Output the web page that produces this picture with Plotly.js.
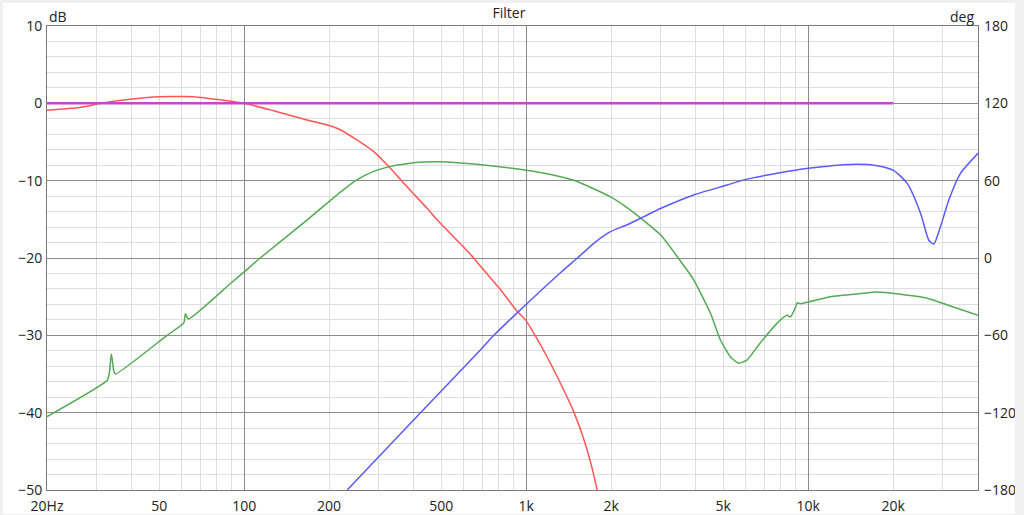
<!DOCTYPE html>
<html>
<head>
<meta charset="utf-8">
<script src="https://cdn.plot.ly/plotly-3.0.1.min.js"></script>
<style>
  html, body { margin: 0; padding: 0; background: #f0f0f0; width: 1024px; height: 515px; overflow: hidden; }
  #plot { position: absolute; left: 3px; top: 3px; width: 1012px; height: 511px; background: #fff; }
</style>
</head>
<body>
<div id="plot"></div>
<script>
// ---- data ----
const redFreq = [20, 26, 31, 40, 50, 61, 70, 100, 127, 167, 197, 220, 251, 288, 330, 378, 446, 484, 634, 690, 811, 929, 994, 1064, 1187, 1323, 1475, 1600, 1714, 1785, 1820];
const redDb   = [-0.9, -0.55, 0, 0.55, 0.85, 0.87, 0.75, 0, -0.95, -2.16, -2.8, -3.45, -4.74, -6.25, -8.4, -10.8, -13.6, -15.1, -19.5, -21.1, -24.1, -26.9, -28.0, -29.7, -32.8, -36.2, -39.9, -43.4, -47.2, -50, -51.5];

const greenFreq = [20, 32.7, 33.3, 33.8, 34.1, 34.5, 35, 53.3, 61.1, 61.9, 63.4, 89.4, 100, 114, 167, 220, 251, 288, 330, 378, 433, 497, 652, 976, 1323, 1517, 1986, 2343, 2600, 2994, 3430, 3930, 4503, 4885, 5302, 5658, 6062, 6757, 7745, 8404, 8653, 9012, 9138, 9370, 12000, 15290, 17570, 21250, 26430, 31950, 40000];
const greenDb   = [-40.5, -35.8, -34.8, -32.4, -33.2, -34.6, -35.0, -30.0, -28.4, -27.2, -27.9, -23.3, -21.8, -20.0, -15.1, -11.45, -9.9, -8.8, -8.15, -7.8, -7.6, -7.55, -7.85, -8.6, -9.5, -10.1, -12.07, -13.8, -15.1, -17.0, -19.8, -22.85, -27.15, -30.6, -32.8, -33.6, -33.2, -31.0, -28.45, -27.4, -27.6, -26.4, -25.8, -25.9, -25.0, -24.6, -24.4, -24.7, -25.2, -26.2, -27.4];

const blueFreq = [232, 422, 688, 768, 941, 1323, 1516, 1737, 1990, 2281, 2612, 2994, 3930, 5160, 5909, 7762, 10030, 14120, 17560, 20120, 22440, 25020, 26770, 27880, 29450, 31520, 34670, 40000];
const blueDb   = [-50, -40, -31.9, -30, -26.9, -21.9, -20.04, -18.1, -16.6, -15.7, -14.66, -13.6, -11.85, -10.56, -9.9, -9.05, -8.4, -7.9, -8.07, -8.7, -10.35, -14.2, -17.7, -18.2, -15.95, -12.5, -9.05, -6.46];

// magenta trace, read on the right (deg) axis
const pinkFreq = [20, 20000];
const pinkDeg  = [120, 120];

const xTickVals  = [20, 50, 100, 200, 500, 1000, 2000, 5000, 10000, 20000];
const xTickText  = ['20Hz', '50', '100', '200', '500', '1k', '2k', '5k', '10k', '20k'];
const xMajorGrid = [100, 1000, 10000];
const xMinorGrid = [30, 40, 50, 60, 70, 80, 90, 200, 300, 400, 500, 600, 700, 800, 900,
                    2000, 3000, 4000, 5000, 6000, 7000, 8000, 9000, 20000, 30000];
const yTickVals  = [-50, -40, -30, -20, -10, 0, 10];
const y2TickVals = [-180, -120, -60, 0, 60, 120, 180];

// ---- chart ----
const xRange = [Math.log10(20), Math.log10(40000)];
const font = { family: 'Open Sans, sans-serif', size: 14, color: '#222' };

const traces = [
  { x: pinkFreq, y: pinkDeg, xaxis: 'x2', yaxis: 'y2', mode: 'lines', line: { color: '#cc44cc', width: 2.5 }, hoverinfo: 'skip' },
  { x: redFreq, y: redDb, xaxis: 'x', yaxis: 'y', mode: 'lines', line: { color: '#ff5555', width: 1.5, shape: 'spline', smoothing: 0.6 }, hoverinfo: 'skip' },
  { x: greenFreq, y: greenDb, xaxis: 'x', yaxis: 'y', mode: 'lines', line: { color: '#55aa55', width: 1.5, shape: 'spline', smoothing: 0.5 }, hoverinfo: 'skip' },
  { x: blueFreq, y: blueDb, xaxis: 'x', yaxis: 'y', mode: 'lines', line: { color: '#5a5aff', width: 1.5, shape: 'spline', smoothing: 0.6 }, hoverinfo: 'skip' }
];

const layout = {
  width: 1012, height: 511,
  margin: { l: 44, r: 37, t: 23, b: 24 },
  paper_bgcolor: '#ffffff',
  plot_bgcolor: '#ffffff',
  showlegend: false,
  font: font,
  title: { text: 'Filter', font: { family: 'Open Sans, sans-serif', size: 14, color: '#222' }, x: 0.5, xanchor: 'center', y: 0.98, yanchor: 'middle', yref: 'container' },
  xaxis: {
    type: 'log', range: xRange, tickmode: 'array', tickvals: xMajorGrid, showticklabels: false,
    ticks: '', showgrid: true, gridcolor: '#8c8c8c', gridwidth: 1,
    minor: { tickmode: 'array', tickvals: xMinorGrid, showgrid: true, gridcolor: '#dedede', gridwidth: 1, ticks: '' },
    showline: true, mirror: true, linecolor: '#7a7a7a', linewidth: 1, zeroline: false, fixedrange: true
  },
  xaxis2: {
    type: 'log', range: xRange, overlaying: 'x', anchor: 'y', side: 'bottom',
    tickmode: 'array', tickvals: xTickVals, ticktext: xTickText, ticks: '', showgrid: false, showline: false,
    zeroline: false, tickfont: font, ticklabelstandoff: 6, fixedrange: true
  },
  yaxis: {
    range: [-50, 10], tickmode: 'array', tickvals: yTickVals, ticks: '', showgrid: true, gridcolor: '#8c8c8c', gridwidth: 1,
    minor: { dtick: 2, tick0: 0, showgrid: true, gridcolor: '#dedede', gridwidth: 1, ticks: '' },
    showline: true, mirror: true, linecolor: '#7a7a7a', linewidth: 1, zeroline: false, tickfont: font, ticklabelstandoff: 1, fixedrange: true
  },
  yaxis2: {
    range: [-180, 180], overlaying: 'y', side: 'right', anchor: 'x', tickmode: 'array', tickvals: y2TickVals,
    ticks: '', showgrid: false, zeroline: false, showline: false, tickfont: font, ticklabelstandoff: 5, fixedrange: true
  },
  annotations: [
    { text: 'dB', xref: 'paper', yref: 'paper', x: 0, y: 1, xanchor: 'left', yanchor: 'bottom', xshift: 0, yshift: -2, showarrow: false, font: font },
    { text: 'deg', xref: 'paper', yref: 'paper', x: 1, y: 1, xanchor: 'right', yanchor: 'bottom', xshift: -2, yshift: -2, showarrow: false, font: font }
  ]
};

Plotly.newPlot('plot', traces, layout, { staticPlot: true, displayModeBar: false });
</script>
</body>
</html>
